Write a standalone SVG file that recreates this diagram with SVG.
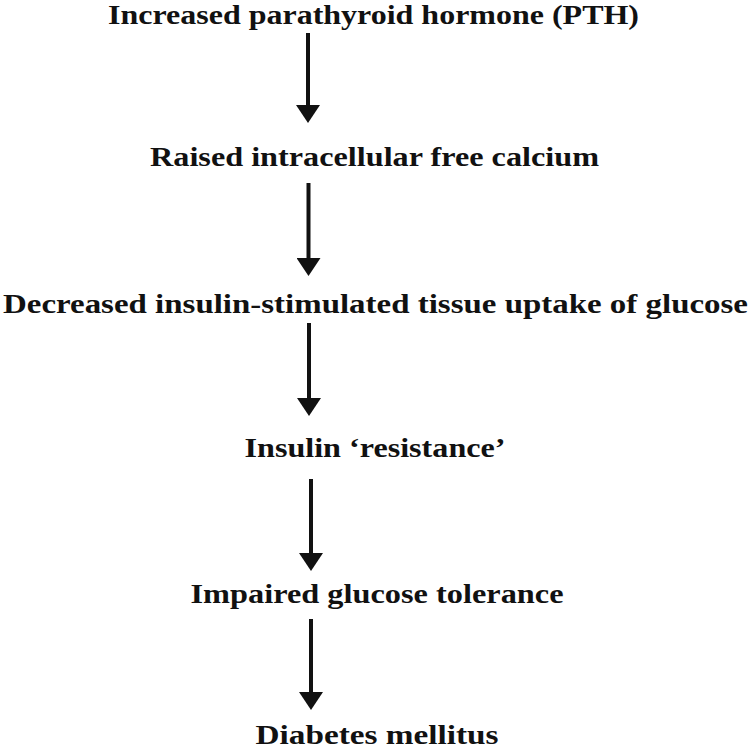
<svg xmlns="http://www.w3.org/2000/svg" width="750" height="750" viewBox="0 0 750 750">
  <style>
    .lbl { font-family: "Liberation Serif", "Times New Roman", serif; font-weight: bold; font-size: 27px; fill: #111; text-anchor: middle; }
    .arr { stroke: #111; stroke-width: 4; fill: none; marker-end: url(#head); }
  </style>
  <defs>
    <marker id="head" markerUnits="userSpaceOnUse" viewBox="0 0 18 24" markerWidth="18" markerHeight="24" refX="1" refY="12" orient="auto">
      <path d="M0,0 L18,12 L0,24 Z" fill="#111"/>
    </marker>
  </defs>
  <rect width="750" height="750" fill="#ffffff"/>
  <g id="n1"><text class="lbl" x="373.5" y="24" textLength="531" lengthAdjust="spacingAndGlyphs">Increased parathyroid hormone (PTH)</text></g>
  <g id="n2"><text class="lbl" x="374.5" y="165.5" textLength="449" lengthAdjust="spacingAndGlyphs">Raised intracellular free calcium</text></g>
  <g id="n3"><text class="lbl" x="375.5" y="313" textLength="745" lengthAdjust="spacingAndGlyphs">Decreased insulin-stimulated tissue uptake of glucose</text></g>
  <g id="n4"><text class="lbl" x="375" y="456.5" textLength="261" lengthAdjust="spacingAndGlyphs">Insulin ‘resistance’</text></g>
  <g id="n5"><text class="lbl" x="377" y="603" textLength="373" lengthAdjust="spacingAndGlyphs">Impaired glucose tolerance</text></g>
  <g id="n6"><text class="lbl" x="377" y="744" textLength="243" lengthAdjust="spacingAndGlyphs">Diabetes mellitus</text></g>
  <g id="connectors">
    <line class="arr" x1="308" y1="33" x2="308" y2="106"/>
    <line class="arr" x1="308.5" y1="183" x2="308.5" y2="259"/>
    <line class="arr" x1="309" y1="323" x2="309" y2="399"/>
    <line class="arr" x1="311" y1="479" x2="311" y2="554"/>
    <line class="arr" x1="311" y1="619" x2="311" y2="693"/>
  </g>
</svg>
